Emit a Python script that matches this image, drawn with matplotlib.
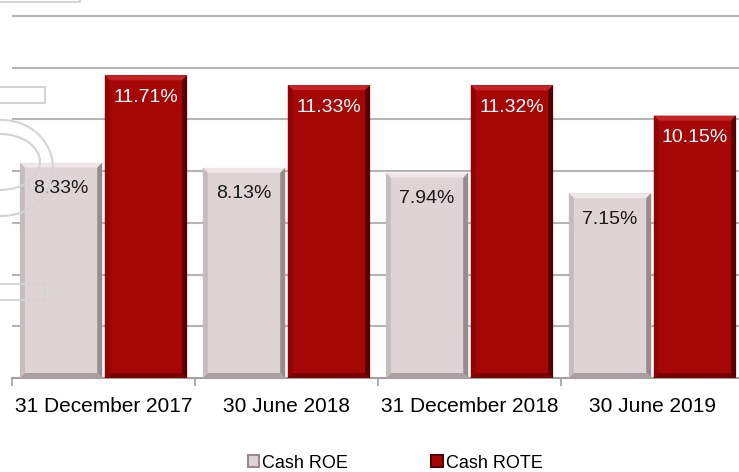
import numpy as np
import matplotlib.pyplot as plt
from matplotlib.patches import Polygon, Rectangle, Ellipse, Patch

periods = ['31 December 2017', '30 June 2018', '31 December 2018', '30 June 2019']
cash_roe = [8.33, 8.13, 7.94, 7.15]
cash_rote = [11.71, 11.33, 11.32, 10.15]

plt.rcParams['font.family'] = ['Liberation Sans', 'DejaVu Sans']

fig = plt.figure(figsize=(7.39, 4.72), dpi=100)

# faint watermark shapes behind the chart
deco = dict(fill=False, edgecolor='#d4d4d4', linewidth=1.5, transform=fig.transFigure, zorder=0)
W, H = 739.0, 472.0
fig.patches.append(Rectangle((-0.01, 1 - 2 / H), 87 / W, 0.02, **deco))
fig.patches.append(Rectangle((-0.01, 1 - 103 / H), 52 / W, 16 / H, **deco))
fig.patches.append(Rectangle((-0.01, 1 - 300 / H), 52 / W, 16 / H, **deco))
fig.patches.append(Ellipse((2 / W, 1 - 168 / H), 102 / W, 96 / H, **deco))
fig.patches.append(Ellipse((0, 1 - 162 / H), 80 / W, 56 / H, **deco))

ax = fig.add_axes([12 / W, 94 / H, 732 / W, 378 / H])
ax.patch.set_alpha(0)

x = np.arange(len(periods))
w = 0.45
off = 0.232

roe_col = dict(face='#ded3d5', top='#eee6e7', right='#978c8d', bottom='#a99fa0', left='#c6bbbd')
rote_col = dict(face='#a50606', top='#c42424', right='#560000', bottom='#780000', left='#920404')

bx = 5 / 183.0     # bevel width in data units
by = 5 / 25.9


def bevel_bars(xs, vals, c):
    ax.bar(xs, vals, w, color=c['face'], zorder=3, linewidth=0)
    for xc, v in zip(xs, vals):
        l, r = xc - w / 2, xc + w / 2
        polys = [
            ([(l, v), (r, v), (r - bx, v - by), (l + bx, v - by)], c['top']),
            ([(r, v), (r, 0), (r - bx, by), (r - bx, v - by)], c['right']),
            ([(l, 0), (r, 0), (r - bx, by), (l + bx, by)], c['bottom']),
            ([(l, v), (l, 0), (l + bx, by), (l + bx, v - by)], c['left']),
        ]
        for pts, col in polys:
            ax.add_patch(Polygon(pts, closed=True, facecolor=col, edgecolor='none', zorder=4))


bevel_bars(x - off, cash_roe, roe_col)
bevel_bars(x + off, cash_rote, rote_col)

for xc, v in zip(x - off, cash_roe):
    ax.annotate(f'{v:.2f}%', (xc, v), xytext=(0, -26), textcoords='offset pixels',
                ha='center', va='center', fontsize=14, color='#1a1a1a', zorder=6)
for xc, v in zip(x + off, cash_rote):
    ax.annotate(f'{v:.2f}%', (xc, v), xytext=(0, -22), textcoords='offset pixels',
                ha='center', va='center', fontsize=14, color='white', zorder=6)

ax.set_xlim(-0.5, len(periods) - 0.5)
ax.set_ylim(0, 14.62)
ax.set_yticks(np.arange(2, 15, 2))
ax.yaxis.grid(True, color='#b4b4b4', linewidth=1.5, zorder=1)
ax.set_axisbelow(True)
ax.tick_params(axis='y', left=False, labelleft=False)

ax.set_xticks(x)
ax.set_xticklabels(periods, fontsize=15)
ax.set_xticks(np.arange(-0.5, len(periods), 1), minor=True)
ax.tick_params(axis='x', which='major', length=0, pad=14)
ax.tick_params(axis='x', which='minor', length=6, width=1.2, color='#a0a0a0')

for s in ['top', 'right', 'left']:
    ax.spines[s].set_visible(False)
ax.spines['bottom'].set_color('#a0a0a0')
ax.spines['bottom'].set_linewidth(1.5)

handles = [Patch(facecolor=roe_col['face'], edgecolor=roe_col['right'], linewidth=1.5),
           Patch(facecolor=rote_col['face'], edgecolor=rote_col['right'], linewidth=1.5)]
fig.legend(handles, ['Cash ROE', 'Cash ROTE'], loc='center', bbox_to_anchor=(395 / W, 1 - 463 / H),
           ncol=2, frameon=False, fontsize=13, handlelength=0.65, handleheight=0.65,
           handletextpad=0.15, columnspacing=4.6)

fig.savefig('out.png', dpi=100)
